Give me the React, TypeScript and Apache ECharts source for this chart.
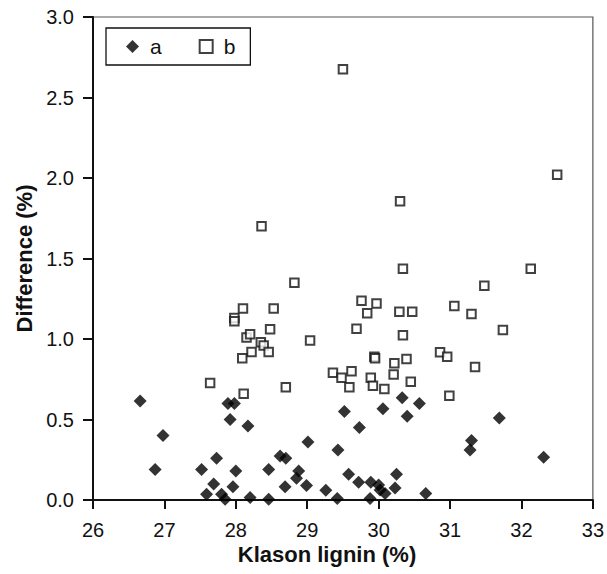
import React, { useEffect, useRef } from "react";
import * as echarts from "echarts";

const aX = [26.66, 26.98, 26.87, 27.52, 27.73, 27.69, 27.59, 27.80, 27.85, 27.89, 27.98, 27.92, 28.17, 28.00, 27.96, 28.20, 28.46, 28.46, 28.62, 28.70, 28.69, 28.88, 28.85, 28.99, 29.01, 29.26, 29.42, 29.43, 29.52, 30.06, 30.33, 30.57, 30.40, 29.73, 31.69, 31.30, 31.28, 32.31, 29.58, 29.72, 29.89, 30.00, 30.02, 30.09, 30.25, 30.23, 29.88, 30.66];
const aY = [0.615, 0.40, 0.19, 0.19, 0.26, 0.10, 0.035, 0.035, 0.004, 0.60, 0.60, 0.50, 0.46, 0.18, 0.083, 0.015, 0.19, 0.004, 0.273, 0.26, 0.083, 0.18, 0.135, 0.09, 0.36, 0.06, 0.01, 0.31, 0.55, 0.567, 0.635, 0.60, 0.52, 0.45, 0.51, 0.37, 0.31, 0.265, 0.16, 0.11, 0.11, 0.093, 0.062, 0.04, 0.16, 0.074, 0.01, 0.04];

const bX = [27.64, 28.10, 27.98, 27.98, 28.53, 28.82, 28.48, 28.15, 28.20, 28.35, 28.39, 28.22, 28.09, 28.46, 29.04, 28.11, 28.70, 28.36, 29.50, 32.50, 30.30, 30.34, 32.13, 31.48, 29.76, 29.97, 29.84, 30.29, 30.47, 31.06, 31.30, 31.74, 29.69, 30.34, 29.94, 29.95, 30.22, 30.39, 30.86, 30.96, 31.35, 29.36, 29.62, 29.48, 29.59, 29.89, 29.92, 30.08, 30.21, 30.45, 30.99];
const bY = [0.727, 1.19, 1.13, 1.11, 1.19, 1.35, 1.06, 1.01, 1.03, 0.98, 0.96, 0.92, 0.88, 0.92, 0.99, 0.66, 0.70, 1.70, 2.675, 2.02, 1.855, 1.437, 1.437, 1.33, 1.238, 1.22, 1.16, 1.17, 1.17, 1.205, 1.155, 1.056, 1.064, 1.023, 0.89, 0.88, 0.85, 0.876, 0.917, 0.89, 0.826, 0.79, 0.80, 0.76, 0.70, 0.76, 0.71, 0.69, 0.78, 0.735, 0.648];

const seriesNames = ["a", "b"];
const xTitle = "Klason lignin (%)";
const yTitle = "Difference (%)";

const FONT = "Liberation Sans, Arial, sans-serif";

export default function App() {
  const ref = useRef<HTMLDivElement>(null);
  useEffect(() => {
    if (!ref.current) return;
    const chart = echarts.init(ref.current, null, { renderer: "svg" });
    const dataA = aX.map((x, i) => [x, aY[i]]);
    const dataB = bX.map((x, i) => [x, bY[i]]);
    chart.setOption({
      animation: false,
      backgroundColor: "#fff",
      textStyle: { fontFamily: FONT },
      grid: {
        left: 93,
        right: 13,
        top: 17,
        bottom: 74,
        show: true,
        borderColor: "#555",
        borderWidth: 1.2,
        backgroundColor: "transparent",
      },
      legend: {
        left: 106,
        top: 28,
        orient: "horizontal",
        data: [
          { name: seriesNames[0], icon: "diamond" },
          { name: seriesNames[1], icon: "rect" },
        ],
        borderColor: "#111",
        borderWidth: 1.3,
        padding: [8, 15, 8, 20],
        itemGap: 37,
        itemWidth: 13,
        itemHeight: 13,
        textStyle: { fontSize: 21, color: "#111", fontFamily: FONT, padding: [0, 0, 0, 6] },
      },
      xAxis: {
        type: "value",
        min: 26,
        max: 33,
        interval: 1,
        splitLine: { show: false },
        axisLine: { show: true, onZero: false, lineStyle: { color: "#111", width: 2 } },
        axisTick: { show: true, inside: false, length: 9, lineStyle: { color: "#111", width: 2 } },
        axisLabel: { fontSize: 20, color: "#111", margin: 20, fontFamily: FONT },
      },
      yAxis: {
        type: "value",
        min: 0,
        max: 3,
        interval: 0.5,
        splitLine: { show: false },
        axisLine: { show: true, onZero: false, lineStyle: { color: "#111", width: 2 } },
        axisTick: { show: true, inside: false, length: 10, lineStyle: { color: "#111", width: 2 } },
        axisLabel: {
          fontSize: 20,
          color: "#111",
          margin: 19,
          fontFamily: FONT,
          formatter: (v: number) => v.toFixed(1),
        },
        name: yTitle,
        nameLocation: "middle",
        nameGap: 57,
        nameRotate: 90,
        nameTextStyle: { fontSize: 22, fontWeight: "bold", color: "#111", fontFamily: FONT },
      },
      graphic: [
        {
          type: "text",
          x: 327,
          y: 554,
          style: {
            text: xTitle,
            fontSize: 22,
            fontWeight: "bold",
            fill: "#111",
            fontFamily: FONT,
            textAlign: "center",
            textVerticalAlign: "middle",
          },
        },
      ],
      series: [
        {
          name: seriesNames[0],
          type: "scatter",
          data: dataA,
          symbol: "diamond",
          symbolSize: 13,
          itemStyle: { color: "#000" },
          z: 3,
        },
        {
          name: seriesNames[1],
          type: "scatter",
          data: dataB,
          symbol: "rect",
          symbolSize: 8.5,
          itemStyle: { color: "#fff", borderColor: "#111", borderWidth: 2 },
          z: 4,
        },
      ],
    });
    return () => chart.dispose();
  }, []);
  return (
    <div
      ref={ref}
      style={{ position: "fixed", left: 0, top: 0, width: 607, height: 574, background: "#fff" }}
    />
  );
}
